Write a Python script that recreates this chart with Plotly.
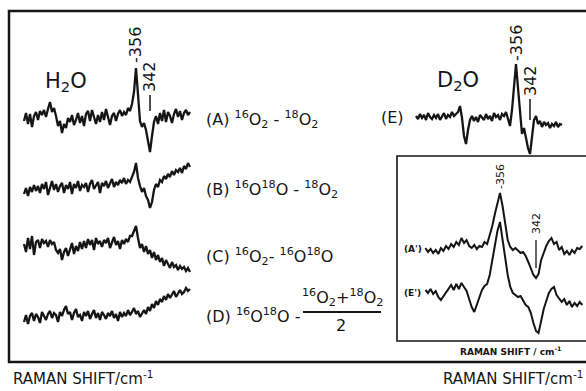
import plotly.graph_objects as go

W, H = 586, 391

# ---------------- data (Raman shift in cm^-1, intensity in arbitrary units) ----------------
shift_h2o = list(range(468, 300, -2))          # H2O spectra sampling grid (84 points)
spec_A = [-3, 5, -6, 4, -9, 2, 6, -2, 7, 3,
          8, 1, 9, 16, 6, 10, 2, -8, -3, -15,
          -6, -10, 0, -4, 3, -7, -2, 5, -5, 2,
          -8, 4, 7, -3, 8, 1, -6, 3, -4, 6,
          -2, 9, 0, -7, 2, 5, -3, 4, 8, 2,
          6, 3, 10, 7, 14, 26, 50, 18, -3, -9,
          -5, -12, -22, -34, -18, -4,
          2, -6, 5, -3, 8, -4, 6, 2, -5, 4, 9, 1, 7, -2, 5, 8, 3, 6]
spec_B = [-4, 2, -6, 3, -2, 5, -1, 4, -3, 6,
          1, 8, -5, 3, 9, 0, 6, -2, 4, 7,
          -3, 5, 1, 8, -4, 6, 2, 9, -1, 5,
          3, 7, -2, 6, 10, 1, 5, 8, -3, 7,
          4, 9, 2, 6, 11, 3, 8, 5, 10, 7,
          12, 6, 10, 8, 14, 18, 27, 12, 4, -2,
          2, -6, -10, -18, -12, 0, 6, 3, 10, 8,
          14, 11, 16, 13, 19, 15, 20, 18, 22, 17, 24, 21, 27, 23]
spec_C = [2, -6, 8, -3, 10, -9, 4, 6, -2, 7,
          3, 5, -1, 6, 2, 4, -4, -7, -3, -14,
          -6, -2, -10, -4, 3, -8, 0, -5, 4, -3,
          5, -2, 7, 1, 6, -4, 8, 2, 5, -1,
          6, 3, 8, -2, 4, 9, 1, 5, -3, 6,
          2, 7, 4, 10, 10, 16, 20, 8, -2, 2,
          -6, 0, -8, -4, -12, -6, -14, -9, -16, -12,
          -20, -14, -18, -22, -16, -21, -19, -24, -20, -23, -21, -25, -22, -26]
spec_D = [-4, 3, -6, 2, 5, -3, 4, 1, -5, 6,
          2, -2, 4, 7, 0, 5, 3, -4, 6, 2,
          8, 12, 4, 6, -2, 5, 9, 1, 3, -3,
          6, 2, 7, -1, 4, 8, 0, 5, -2, 6,
          3, -1, 5, 2, 7, 0, 4, -3, 6, 1,
          5, 2, 8, 3, 6, 10, 4, 7, 1, 5,
          8, 4, 11, 7, 14, 10, 17, 13, 19, 16,
          22, 18, 24, 20, 23, 27, 21, 25, 28, 24, 26, 30, 27, 29]

shift_d2o = list(range(456, 308, -2))          # D2O spectrum sampling grid (74 points)
spec_E = [2, -1, 4, 0, 3, -2, 5, 1, -1, 3,
          0, 4, -2, 2, 5, -1, 3, 1, 6, 2,
          4, 6, 12, 0, -18, -26, -12, -2, 2, -3,
          1, -4, 3, 0, -2, 4, -1, 2, -3, 5,
          1, 3, -2, 4, 2, 6, 0, -8, 8, 32,
          54, 30, 5, -16, -10, -20, -30, -36, -20, -2,
          2, -6, -3, -9, -4, -7, -5, -10, -6, -8, -4, -9, -6, -7]

shift_inset = list(range(385, 323, -1))        # expanded inset grid (62 points)
spec_Ap = [2, -2, 1, -3, 0, -4, 2, -1, 4, 1,
           6, 3, 8, 5, 12, 7, 10, 4, 2, 5,
           1, 4, 3, 8, 6, 14, 24, 36, 46, 57,
           44, 26, 10, 3, 0, 2, -1, -3, -2, -6,
           -12, -18, -25, -28, -24, -10, -2, 4, 9, 12,
           6, 8, 0, 3, -4, -1, -5, 0, -3, 2, 1, 4]
spec_Ep = [3, 0, 4, -1, 2, -4, -7, -3, 1, 5,
           8, 3, 9, 4, 10, 6, 2, -6, -14, -19,
           -12, -4, 3, 7, 9, 18, 32, 48, 62, 71,
           52, 34, 18, 6, 0, -2, -4, -3, -8, -12,
           -14, -20, -30, -38, -40, -28, -16, -8, 0, 4,
           6, -2, -5, -9, -6, -12, -8, -14, -10, -13, -9, -12]

peak_labels = ["-356", "342"]
peak_pos = [356, 342]

# ---------------- layout helpers ----------------
def px(v):
    return v / W

def py(v):
    return 1 - v / H

INK = "#151515"
FONT = "DejaVu Sans"

fig = go.Figure()

# (series, shift grid, x-axis id, y-axis id, baseline pixel row, half height, line width)
series = [
    (spec_A, shift_h2o, "x", "y", 118, 65, 2.3),
    (spec_B, shift_h2o, "x", "y2", 190, 65, 2.3),
    (spec_C, shift_h2o, "x", "y3", 246, 65, 2.3),
    (spec_D, shift_h2o, "x", "y4", 318, 65, 2.3),
    (spec_E, shift_d2o, "x2", "y5", 118, 65, 2.3),
    (spec_Ap, shift_inset, "x3", "y6", 250, 80, 2.0),
    (spec_Ep, shift_inset, "x3", "y7", 293, 80, 2.0),
]

layout = dict(
    width=W, height=H,
    margin=dict(l=0, r=0, t=0, b=0),
    paper_bgcolor="white", plot_bgcolor="rgba(0,0,0,0)",
    showlegend=False,
    xaxis=dict(domain=[px(20), px(194)], range=[472, 298], visible=False),
    xaxis2=dict(domain=[px(410), px(568)], range=[462, 304], visible=False),
)
k = 36 / 14  # px per cm^-1 in inset
layout["xaxis3"] = dict(domain=[px(420), px(586)], range=[356 + 80 / k, 356 - 86 / k], visible=False)

for i, (vals, xs, xa, ya, c, h, lw) in enumerate(series):
    fig.add_trace(go.Scatter(x=xs, y=vals, mode="lines", xaxis=xa, yaxis=ya,
                             line=dict(color=INK, width=lw, shape="linear"),
                             hoverinfo="skip"))
    key = "yaxis" if ya == "y" else "yaxis" + ya[1:]
    layout[key] = dict(domain=[py(c + h), py(c - h)], range=[-h, h], visible=False,
                       anchor=xa)

fig.update_layout(**layout)

ann = []
shapes = []

def text(t, x, y, size, xanchor="center", yanchor="middle", xref="paper", angle=0, bold=False):
    ann.append(dict(text=("<b>%s</b>" % t) if bold else t, x=x, y=y, xref=xref, yref="paper",
                    xanchor=xanchor, yanchor=yanchor, showarrow=False, textangle=angle,
                    font=dict(family=FONT, size=size, color=INK)))

# frame boxes
shapes.append(dict(type="rect", xref="paper", yref="paper", x0=px(9), x1=1.02,
                   y0=py(362), y1=py(11), line=dict(color=INK, width=2.5)))
shapes.append(dict(type="rect", xref="paper", yref="paper", x0=px(397), x1=1.02,
                   y0=py(341), y1=py(156), line=dict(color=INK, width=1.6)))

# solvent labels
text("H<sub>2</sub>O", px(66), py(82), 21)
text("D<sub>2</sub>O", px(458), py(81), 21)

# peak markers (A) and (E)
for xa, y356, y342, l0, l1, fs in [("x", 45, 77, 95, 111, 16), ("x2", 43, 81, 99, 120, 16)]:
    text(peak_labels[0], peak_pos[0], py(y356), fs, xref=xa, angle=-90)
    text(peak_labels[1], peak_pos[1], py(y342), fs, xref=xa, angle=-90)
    shapes.append(dict(type="line", xref=xa, yref="paper", x0=peak_pos[1], x1=peak_pos[1],
                       y0=py(l1), y1=py(l0), line=dict(color=INK, width=1.5)))
# inset peak markers
text(peak_labels[0], peak_pos[0], py(177), 11, xref="x3", angle=-90)
text(peak_labels[1], peak_pos[1], py(224), 11, xref="x3", angle=-90)
shapes.append(dict(type="line", xref="x3", yref="paper", x0=peak_pos[1], x1=peak_pos[1],
                   y0=py(268), y1=py(240), line=dict(color=INK, width=1.3)))

# spectrum captions
text("(A) <sup>16</sup>O<sub>2</sub> - <sup>18</sup>O<sub>2</sub>", px(204), py(120), 16, xanchor="left")
text("(B) <sup>16</sup>O<sup>18</sup>O - <sup>18</sup>O<sub>2</sub>", px(204), py(190), 16, xanchor="left")
text("(C) <sup>16</sup>O<sub>2</sub>- <sup>16</sup>O<sup>18</sup>O", px(204), py(256), 16, xanchor="left")
text("(D) <sup>16</sup>O<sup>18</sup>O -", px(204), py(315), 16, xanchor="left")
text("<sup>16</sup>O<sub>2</sub>+<sup>18</sup>O<sub>2</sub>", px(342), py(297), 16)
text("2", px(341), py(325), 16)
shapes.append(dict(type="line", xref="paper", yref="paper", x0=px(303), x1=px(381),
                   y0=py(312), y1=py(312), line=dict(color=INK, width=1.8)))
text("(E)", px(379), py(118), 16, xanchor="left")
text("(A')", px(402), py(249), 9, xanchor="left", bold=True)
text("(E')", px(402), py(293), 9, xanchor="left", bold=True)

# axis titles
text("RAMAN SHIFT / cm<sup>-1</sup>", px(510), py(351), 9, bold=True)
text("RAMAN SHIFT/cm<sup>-1</sup>", px(11), py(378), 15, xanchor="left")
text("RAMAN SHIFT/cm<sup>-1</sup>", px(585), py(378), 15, xanchor="right")

fig.update_layout(annotations=ann, shapes=shapes)
fig.write_html("out.html")
